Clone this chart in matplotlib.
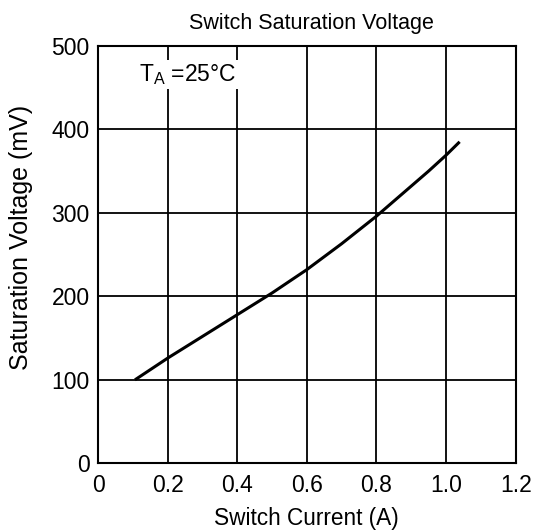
import matplotlib
matplotlib.use("Agg")
import matplotlib.pyplot as plt

plt.rcParams['font.family'] = ['Liberation Sans', 'DejaVu Sans']

# data
current = [0.106, 0.2, 0.3, 0.4, 0.5, 0.6, 0.7, 0.8, 0.9, 0.95, 1.0, 1.039]
voltage = [100, 126, 152, 178, 204, 232, 263, 296, 332, 350, 369, 385]
xticks = [0, 0.2, 0.4, 0.6, 0.8, 1.0, 1.2]
xticklabels = ['0', '0.2', '0.4', '0.6', '0.8', '1.0', '1.2']
yticks = [0, 100, 200, 300, 400, 500]

fig = plt.figure(figsize=(5.33, 5.32), dpi=100)
ax = fig.add_axes([0.184, 0.129, 0.7835, 0.785])

ax.plot(current, voltage, color='black', lw=2.2, solid_capstyle='butt',
        solid_joinstyle='round', zorder=3)

ax.set_xlim(0, 1.2)
ax.set_ylim(0, 500)
ax.set_xticks(xticks)
ax.set_xticklabels(xticklabels)
ax.set_yticks(yticks)
ax.tick_params(length=0, labelsize=16.5)
ax.tick_params(axis='x', pad=8)
ax.tick_params(axis='y', pad=6)
ax.grid(True, color='black', lw=1.3)
for s in ax.spines.values():
    s.set_linewidth(1.5)

ax.text(0.118, 466, r'T$_\mathregular{A}$ =25°C', fontsize=16.5, va='center', ha='left',
        bbox=dict(facecolor='white', edgecolor='none', pad=1.5), zorder=4)

ax.set_title('Switch Saturation Voltage', fontsize=15.5, pad=12, x=0.51)
ax.set_xlabel('Switch Current (A)', fontsize=16.3, labelpad=7)
ax.set_ylabel('Saturation Voltage (mV)', fontsize=18)
ax.yaxis.set_label_coords(-0.155, 0.54)

fig.savefig('out.png', dpi=100)
